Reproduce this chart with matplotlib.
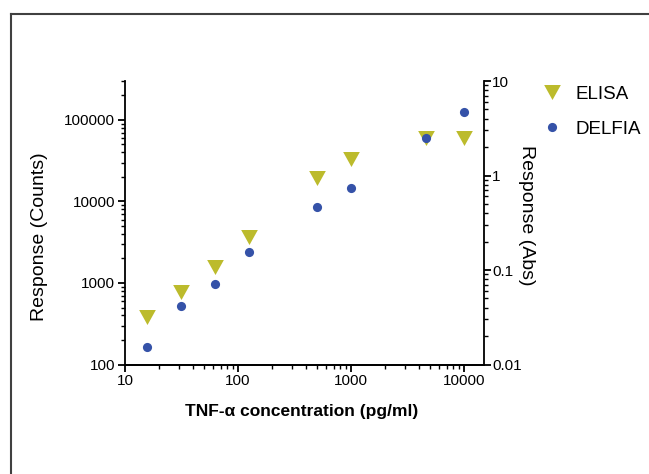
import matplotlib
matplotlib.use("Agg")
import matplotlib.pyplot as plt
from matplotlib.ticker import LogLocator, NullFormatter
from matplotlib.lines import Line2D

plt.rcParams['font.family'] = ['Liberation Sans', 'DejaVu Sans']

# concentrations (pg/ml)
conc = [15.6, 31.2, 62.5, 125, 500, 1000, 4600, 10000]
# DELFIA response (counts), left axis
delfia = [162, 519, 966, 2390, 8530, 14700, 59400, 126500]
# ELISA response (absorbance), right axis
elisa = [0.0321, 0.0586, 0.108, 0.225, 0.953, 1.48, 2.49, 2.49]

x_ticks = [10, 100, 1000, 10000]
x_labels = ['10', '100', '1000', '10000']
y_ticks = [100, 1000, 10000, 100000]
y_labels = ['100', '1000', '10000', '100000']
y2_ticks = [0.01, 0.1, 1, 10]
y2_labels = ['0.01', '0.1', '1', '10']

col_elisa = '#bcbb2c'
col_delfia = '#3552a8'

# slightly flattened down-pointing triangle
tri = [(-1, 0.9), (1, 0.9), (0, -0.9)]

fig = plt.figure(figsize=(6.49, 4.74), dpi=100)
ax = fig.add_axes([0.1926, 0.231, 0.5532, 0.598])
ax2 = ax.twinx()
# keep DELFIA dots on top of the triangles
ax2.set_zorder(ax.get_zorder() - 1)
ax.patch.set_visible(False)

ax2.plot(conc, elisa, linestyle='none', marker=tri, markersize=12,
         color=col_elisa, markeredgewidth=0, label='ELISA')
ax.plot(conc, delfia, linestyle='none', marker='o', markersize=6.6,
        color=col_delfia, markeredgewidth=0, label='DELFIA')

for a in (ax, ax2):
    a.set_xscale('log')
    a.set_yscale('log')
    a.spines['top'].set_visible(False)
    for s in a.spines.values():
        s.set_linewidth(1.3)

ax.set_xlim(10, 15000)
ax.set_ylim(100, 300000)
ax2.set_ylim(0.01, 10)

ax.spines['right'].set_visible(False)
ax2.spines['left'].set_visible(False)

ax.set_xticks(x_ticks)
ax.set_xticklabels(x_labels)
ax.set_yticks(y_ticks)
ax.set_yticklabels(y_labels)
ax2.set_yticks(y2_ticks)
ax2.set_yticklabels(y2_labels)

for a, axis in ((ax, ax.xaxis), (ax, ax.yaxis), (ax2, ax2.yaxis)):
    axis.set_minor_locator(LogLocator(base=10, subs=range(2, 10), numticks=20))
    axis.set_minor_formatter(NullFormatter())

ax.tick_params(which='major', direction='out', length=5, width=1.3,
               labelsize=11, pad=2)
ax.tick_params(which='minor', direction='out', length=3, width=1.0)
ax2.tick_params(which='major', direction='out', length=5, width=1.3,
                labelsize=11, pad=1)
ax2.tick_params(which='minor', direction='out', length=3, width=1.0)

ax.set_xlabel('TNF-\u03b1 concentration (pg/ml)', fontsize=12.5,
              fontweight='bold', va='center')
ax.xaxis.set_label_coords(0.493, -0.1675)
ax.set_ylabel('Response (Counts)', fontsize=14, va='center')
ax.yaxis.set_label_coords(-0.237, 0.451)
ax2.set_ylabel('Response (Abs)', fontsize=14, rotation=270, va='center')
ax2.yaxis.set_label_coords(1.117, 0.527)

h1, l1 = ax2.get_legend_handles_labels()
h2, l2 = ax.get_legend_handles_labels()
fig.legend(h1 + h2, l1 + l2, loc='upper left',
           bbox_to_anchor=(535 / 649, 1 - 78 / 474), frameon=False,
           fontsize=13.5, handlelength=1.0, handletextpad=0.75,
           labelspacing=0.95, borderaxespad=0)

# page frame that runs off the right and bottom edges
fig.add_artist(Line2D([11 / 649, 11 / 649], [-0.05, 1 - 13.5 / 474],
                      color='#404040', linewidth=1.5))
fig.add_artist(Line2D([11 / 649, 1.05], [1 - 13.5 / 474, 1 - 13.5 / 474],
                      color='#404040', linewidth=1.5))

fig.savefig('out.png', dpi=100)
